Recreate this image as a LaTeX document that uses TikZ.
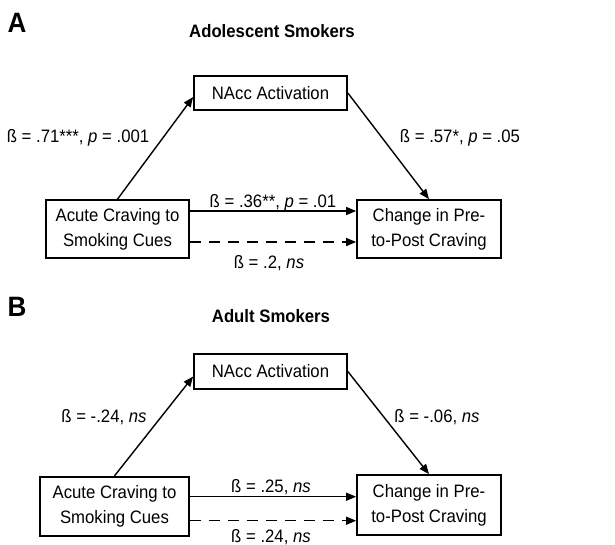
\documentclass[tikz,border=0pt]{standalone}
\usepackage{fontspec}
\setmainfont{Liberation Sans}[FakeStretch=0.93]
\usetikzlibrary{positioning,arrows.meta}

\begin{document}
\begin{tikzpicture}[x=1pt,y=-1pt]
    \def\fs{\fontsize{18}{25}\selectfont}
    \tikzset{
        box/.style={draw, line width=1.7pt, align=center, inner sep=0pt, font=\fs},
        lbl/.style={anchor=base, inner sep=0pt, font=\fs},
        ttl/.style={anchor=base, inner sep=0pt, font=\bfseries\fs},
        panel/.style={inner sep=0pt, font=\bfseries\fontsize{28}{30}\selectfont},
        arr/.style={line width=1.4pt, -{Triangle[length=10pt,width=8pt]}},
        dasharr/.style={arr, dash pattern=on 11pt off 8pt}
    }
    \useasboundingbox (0,0) rectangle (615,544);
    % Panel A
    \node[panel] (letA) at (17,23) {A};
    \node[ttl] (titleA) at (272,37.7) {Adolescent Smokers};
    \node[box, minimum width=153pt, minimum height=34pt] (naccA) at (270.5,93) {NAcc Activation};
    \node[box, minimum width=143pt, minimum height=58pt] (acuteA) at (117.5,229) {Acute Craving to\\Smoking Cues};
    \node[box, minimum width=144pt, minimum height=58pt] (changeA) at (429,229) {Change in Pre-\\to-Post Craving};
    \draw[arr] (acuteA.north) -- ([yshift=-4pt]naccA.west);
    \draw[arr] (naccA.east) -- (changeA.north);
    \draw[arr] ([yshift=18pt]acuteA.east) -- ([yshift=18pt]changeA.west);
    \draw[dasharr] ([yshift=-13pt]acuteA.east) -- ([yshift=-13pt]changeA.west);
    \node[lbl] (aA) at (78,142) {ß = .71***, \textit{p} = .001};
    \node[lbl] (bA) at (460,142) {ß = .57*, \textit{p} = .05};
    \node[lbl] (cA) at (273,207) {ß = .36**, \textit{p} = .01};
    \node[lbl] (dA) at (269,268) {ß = .2, \textit{ns}};
    % Panel B
    \node[panel] (letB) at (17,307) {B};
    \node[ttl] (titleB) at (271,322) {Adult Smokers};
    \node[box, minimum width=153pt, minimum height=35pt] (naccB) at (270.5,371.5) {NAcc Activation};
    \node[box, minimum width=149pt, minimum height=59pt] (acuteB) at (114.5,506.2) {Acute Craving to\\Smoking Cues};
    \node[box, minimum width=144pt, minimum height=60pt] (changeB) at (429,505) {Change in Pre-\\to-Post Craving};
    \draw[arr] (acuteB.north) -- ([yshift=-5pt]naccB.west);
    \draw[arr] (naccB.east) -- (changeB.north);
    \draw[arr] ([yshift=9.5pt]acuteB.east) -- ([yshift=9.5pt]acuteB.east -| changeB.west);
    \draw[dasharr] ([yshift=-14.5pt]acuteB.east) -- ([yshift=-14.5pt]acuteB.east -| changeB.west);
    \node[lbl] (aB) at (104,422) {ß = -.24, \textit{ns}};
    \node[lbl] (bB) at (437,422) {ß = -.06, \textit{ns}};
    \node[lbl] (cB) at (271,492) {ß = .25, \textit{ns}};
    \node[lbl] (dB) at (271,542) {ß = .24, \textit{ns}};
\end{tikzpicture}
\end{document}
